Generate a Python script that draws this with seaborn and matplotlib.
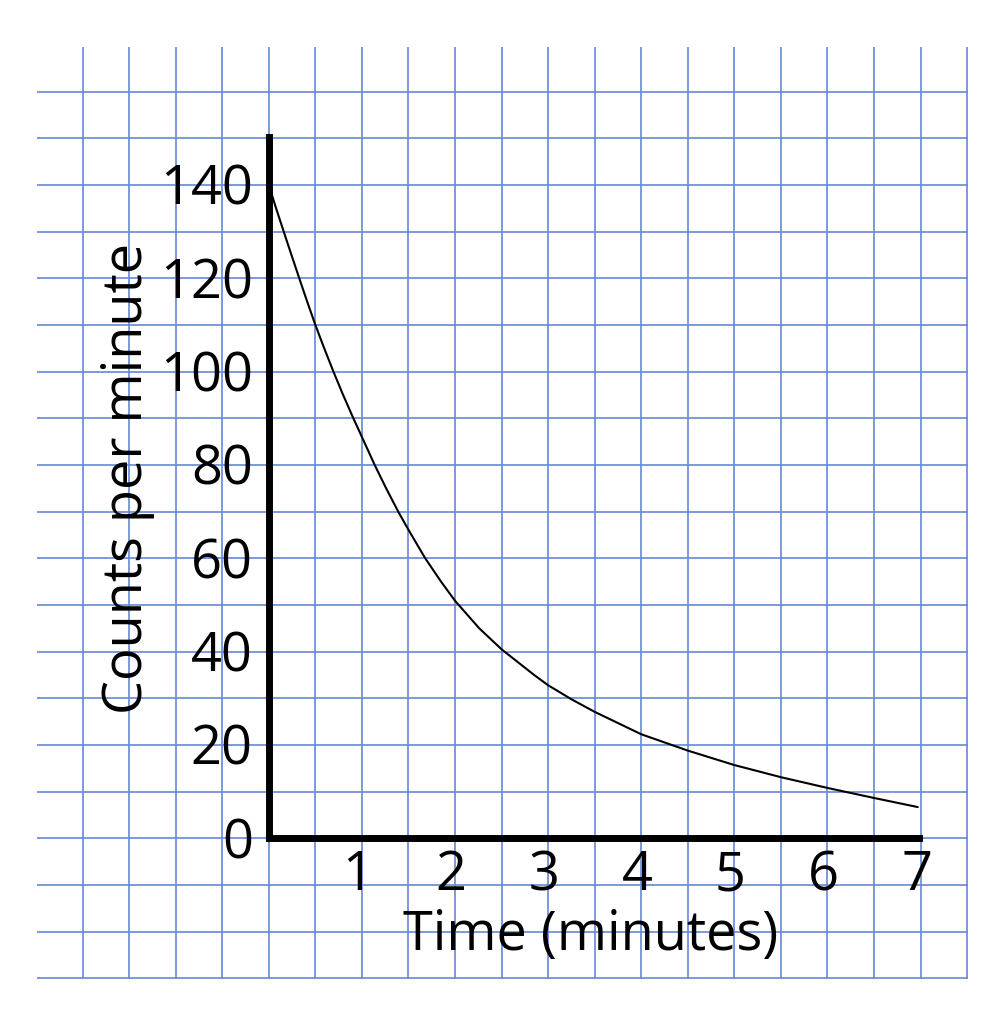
import numpy as np
import pandas as pd
import matplotlib
matplotlib.use('Agg')
import matplotlib.pyplot as plt
import matplotlib.transforms as mtransforms
import seaborn as sns

# ---- data ----
time_min = [0.0, 0.078, 0.16, 0.243, 0.327, 0.412, 0.50, 0.595, 0.694, 0.798,
            0.908, 1.0, 1.137, 1.26, 1.39, 1.5, 1.68, 1.85, 2.0, 2.26, 2.5,
            2.85, 3.0, 3.25, 3.5, 4.0, 4.5, 5.0, 5.5, 6.0, 6.5, 6.97]
counts = [140, 135, 130, 125, 120, 115, 110, 105, 100, 95,
          90, 86, 80, 75, 70, 66.1, 60, 55, 50.9, 45, 40.5,
          35, 32.8, 29.8, 27.1, 22.3, 18.8, 15.7, 13.1, 10.8, 8.65, 6.7]

x_tick_values = [1, 2, 3, 4, 5, 6, 7]
x_tick_labels = ['1', '2', '3', '4', '5', '6', '7']
y_tick_values = [0, 20, 40, 60, 80, 100, 120, 140]
y_tick_labels = ['0', '20', '40', '60', '80', '100', '120', '140']
x_label = 'Time (minutes)'
y_label = 'Counts per minute'

sns.set_theme(style='white')
plt.rcParams['font.family'] = ['Open Sans', 'DejaVu Sans']

W, H = 1004, 1024
fig = plt.figure(figsize=(W / 100, H / 100), dpi=100)
fig.patch.set_facecolor('white')
ax = fig.add_axes([37 / W, (H - 979) / H, (968 - 37) / W, (979 - 47) / H])
ax.set_facecolor('white')

df = pd.DataFrame({'time': time_min, 'counts': counts})
sns.lineplot(data=df, x='time', y='counts', ax=ax, color='black',
             linewidth=1.5, estimator=None, sort=False, zorder=4)

ax.set_xlim(-2.49, 7.51)
ax.set_ylim(-30.14, 169.55)
ax.set_xticks(np.arange(-2.0, 7.51, 0.5))
ax.set_yticks(np.arange(-30, 161, 10))
ax.grid(True, color='#6787d6', linewidth=1.2)
ax.set_axisbelow(True)
ax.tick_params(length=0, labelbottom=False, labelleft=False)
ax.set_xlabel('')
ax.set_ylabel('')

for s in ['top', 'right']:
    ax.spines[s].set_visible(False)
ax.spines['left'].set_position(('data', 0))
ax.spines['bottom'].set_position(('data', 0))
ax.spines['left'].set_bounds(0, 150.3)
ax.spines['bottom'].set_bounds(0, 6.98)
for s in ['left', 'bottom']:
    ax.spines[s].set_linewidth(5)
    ax.spines[s].set_color('black')
    ax.spines[s].set_capstyle('projecting')
    ax.spines[s].set_zorder(5)

fs = 39
xoff = mtransforms.offset_copy(ax.transData, fig=fig, x=-4, y=-52, units='dots')
for v, lab in zip(x_tick_values, x_tick_labels):
    ax.text(v, 0, lab, transform=xoff, ha='center', va='baseline',
            fontsize=fs, color='black', clip_on=False, zorder=6)

yoff = mtransforms.offset_copy(ax.transData, fig=fig, x=-16, y=-20, units='dots')
for v, lab in zip(y_tick_values, y_tick_labels):
    ax.text(0, v, lab, transform=yoff, ha='right', va='baseline',
            fontsize=fs, color='black', clip_on=False, zorder=6)

fig.text(591 / W, 1 - 950 / H, x_label, ha='center', va='baseline',
         fontsize=fs, color='black')
fig.text(128 / W, 1 - 478 / H, y_label, ha='center', va='center',
         rotation=90, fontsize=fs, color='black')

fig.savefig('out.png', dpi=100, facecolor='white')
